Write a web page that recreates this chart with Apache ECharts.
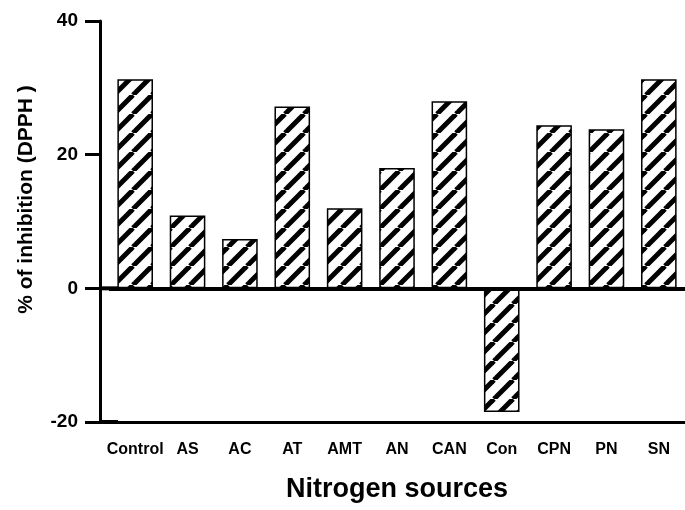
<!DOCTYPE html>
<html>
<head>
<meta charset="utf-8">
<script src="https://cdn.jsdelivr.net/npm/echarts@6/dist/echarts.min.js"></script>
<style>
  html, body { margin: 0; padding: 0; background: #fff; }
  #chart { width: 685px; height: 510px; }
</style>
</head>
<body>
<div id="chart"></div>
<script>
const categories = ['Control', 'AS', 'AC', 'AT', 'AMT', 'AN', 'CAN', 'Con', 'CPN', 'PN', 'SN'];
const inhibition = [31.3, 10.9, 7.4, 27.2, 12.0, 18.0, 28.0, -18.5, 24.4, 23.8, 31.3];
const yTicks = { min: -20, max: 40, interval: 20 };

const font = '"Liberation Sans", Arial, sans-serif';

// diagonal hatch tile
const makeHatch = (size, width) => {
  const canvas = document.createElement('canvas');
  canvas.width = size;
  canvas.height = size;
  const ctx = canvas.getContext('2d');
  ctx.fillStyle = '#fff';
  ctx.fillRect(0, 0, size, size);
  ctx.strokeStyle = '#000';
  ctx.lineWidth = width;
  [-1, 0, 1].forEach((k) => {
    ctx.beginPath();
    ctx.moveTo(k * size, size);
    ctx.lineTo(k * size + size, 0);
    ctx.stroke();
  });
  return canvas;
};

const chart = echarts.init(document.getElementById('chart'), null, { renderer: 'canvas' });

chart.setOption({
  backgroundColor: '#fff',
  animation: false,
  grid: { left: 109, right: 0, top: 21, bottom: 88 },
  xAxis: {
    type: 'category',
    data: categories,
    name: 'Nitrogen sources',
    nameLocation: 'middle',
    nameGap: 54,
    nameTextStyle: { fontFamily: font, fontWeight: 'bold', fontSize: 27, color: '#000' },
    axisLine: {
      onZero: false,
      symbol: ['rect', 'none'],
      symbolSize: [4, 18],
      lineStyle: { color: '#000', width: 3 },
    },
    axisTick: { alignWithLabel: true, length: 10, lineStyle: { color: '#000', width: 3 } },
    axisLabel: { margin: 20, fontFamily: font, fontWeight: 'bold', fontSize: 16, color: '#000', interval: 0 },
  },
  yAxis: {
    type: 'value',
    min: yTicks.min,
    max: yTicks.max,
    interval: yTicks.interval,
    offset: 9,
    name: '% of inhibition (DPPH )',
    nameLocation: 'middle',
    nameGap: 63,
    nameTextStyle: { fontFamily: font, fontWeight: 'bold', fontSize: 21, color: '#000', padding: [0, 0, 0, 44] },
    axisLine: { show: true, lineStyle: { color: '#000', width: 3 } },
    axisTick: { show: true, length: 15, lineStyle: { color: '#000', width: 3 } },
    axisLabel: { margin: 22, fontFamily: font, fontWeight: 'bold', fontSize: 19, color: '#000' },
    splitLine: { show: false },
  },
  series: [
    {
      type: 'bar',
      data: inhibition,
      barWidth: '68%',
      itemStyle: {
        color: { image: makeHatch(19, 5), repeat: 'repeat' },
        borderColor: '#000',
        borderWidth: 1.5,
      },
      markLine: {
        silent: true,
        symbol: ['rect', 'none'],
        symbolSize: [4, 18],
        label: { show: false },
        lineStyle: { color: '#000', width: 4, type: 'solid' },
        itemStyle: { color: '#000' },
        data: [{ yAxis: 0 }],
      },
    },
  ],
});
</script>
</body>
</html>
